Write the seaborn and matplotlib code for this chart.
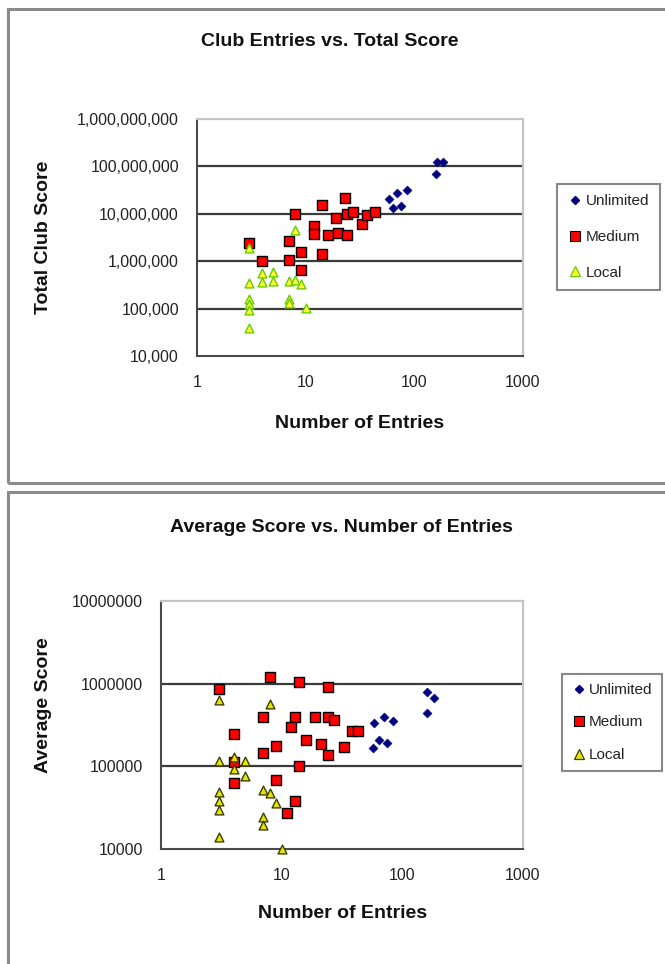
import matplotlib
matplotlib.use("Agg")
import matplotlib.pyplot as plt
import matplotlib.ticker as mticker
from matplotlib.patches import Rectangle
from matplotlib.lines import Line2D
import pandas as pd
import seaborn as sns

# ---- Club entries vs. total score ----
total_unlimited_entries = [160, 184, 157, 58, 69, 86, 64, 76]
total_unlimited_score = [1.24e8, 1.24e8, 6.95e7, 2.07e7, 2.77e7, 3.14e7, 1.34e7, 1.45e7]

total_medium_entries = [3, 4, 8, 7, 9, 7, 9, 14, 12, 12, 16, 14, 19, 23, 24, 27, 20, 24, 33, 37, 43]
total_medium_score = [2.45e6, 1.0e6, 1.0e7, 2.65e6, 1.56e6, 1.05e6, 6.4e5, 1.5e7, 5.5e6, 3.8e6,
                      3.55e6, 1.44e6, 7.96e6, 2.17e7, 1.01e7, 1.08e7, 3.98e6, 3.55e6, 5.96e6,
                      9.66e6, 1.08e7]

total_local_entries = [3, 8, 3, 3, 3, 3, 3, 4, 4, 5, 5, 7, 8, 9, 7, 7, 10]
total_local_score = [1.92e6, 4.52e6, 3.52e5, 1.57e5, 1.23e5, 9.4e4, 3.98e4, 5.53e5, 3.64e5,
                     5.9e5, 3.82e5, 3.82e5, 3.94e5, 3.25e5, 1.63e5, 1.34e5, 1.01e5]

# ---- Average score vs. number of entries ----
avg_unlimited_entries = [58, 70, 84, 64, 75, 57, 159, 183, 159]
avg_unlimited_score = [3.36e5, 4.0e5, 3.5e5, 2.11e5, 1.9e5, 1.65e5, 8.0e5, 6.7e5, 4.4e5]

avg_medium_entries = [3, 8, 14, 24, 4, 7, 13, 19, 24, 27, 12, 38, 43, 16, 21, 9, 7, 33, 24, 14,
                      4, 4, 9, 13, 11]
avg_medium_score = [8.7e5, 1.2e6, 1.04e6, 9.1e5, 2.47e5, 3.93e5, 3.93e5, 3.93e5, 3.93e5, 3.65e5,
                    2.97e5, 2.71e5, 2.64e5, 2.09e5, 1.87e5, 1.75e5, 1.45e5, 1.7e5, 1.39e5, 1.0e5,
                    1.12e5, 6.2e4, 6.8e4, 3.84e4, 2.69e4]

avg_local_entries = [3, 8, 3, 4, 4, 5, 5, 3, 3, 3, 3, 7, 8, 9, 7, 7, 10]
avg_local_score = [6.4e5, 5.6e5, 1.17e5, 1.31e5, 9.3e4, 1.17e5, 7.7e4, 4.84e4, 3.77e4, 2.96e4,
                   1.38e4, 5.2e4, 4.7e4, 3.56e4, 2.45e4, 1.96e4, 1.0e4]

categories = ["Unlimited", "Medium", "Local"]
x_tick_values = [1, 10, 100, 1000]
x_tick_labels = ["1", "10", "100", "1000"]
total_tick_values = [1e4, 1e5, 1e6, 1e7, 1e8, 1e9]
total_tick_labels = ["10,000", "100,000", "1,000,000", "10,000,000", "100,000,000", "1,000,000,000"]
avg_tick_values = [1e4, 1e5, 1e6, 1e7]
avg_tick_labels = ["10000", "100000", "1000000", "10000000"]

sns.set_style("white")
plt.rcParams["font.family"] = ["Liberation Sans", "DejaVu Sans"]

W, H = 665, 964
fig = plt.figure(figsize=(W / 100, H / 100), dpi=100)
fig.patch.set_facecolor("white")

TICK_FS = 11.5
LABEL_FS = 14
LEGEND_FS = 11


def fx(px):
    return px / W


def fy(py):
    return 1 - py / H


# chart frames
for (x0, y0, x1, y1) in [(8, 9, 672, 483), (8, 492, 672, 975)]:
    fig.patches.append(Rectangle((fx(x0), fy(y1)), fx(x1) - fx(x0), fy(y0) - fy(y1),
                                 transform=fig.transFigure, fill=False,
                                 edgecolor="#8a8a8a", linewidth=2.2, zorder=0))


def build_frame(xs, ys):
    parts = []
    for cat, x, y in zip(categories, xs, ys):
        parts.append(pd.DataFrame({"entries": x, "score": y, "type": cat}))
    return pd.concat(parts, ignore_index=True)


def draw_panel(rect, df, local_face, local_edge, yticks, ylabels, ylim):
    ax = fig.add_axes(rect)
    ax.set_xscale("log")
    ax.set_yscale("log")
    styles = {
        "Unlimited": dict(marker="D", s=20, color="#000080", edgecolor="#000080", linewidth=0.5),
        "Medium": dict(marker="s", s=48, color="#FF0000", edgecolor="#000000", linewidth=1.0),
        "Local": dict(marker="^", s=40, color=local_face, edgecolor=local_edge, linewidth=1.0),
    }
    for cat in categories:
        sub = df[df["type"] == cat]
        sns.scatterplot(data=sub, x="entries", y="score", ax=ax, legend=False, zorder=3,
                        clip_on=False, **styles[cat])
    ax.set_xlim(1, 1000)
    ax.set_ylim(*ylim)
    ax.xaxis.set_major_locator(mticker.FixedLocator(x_tick_values))
    ax.xaxis.set_major_formatter(mticker.FixedFormatter(x_tick_labels))
    ax.xaxis.set_minor_locator(mticker.NullLocator())
    ax.yaxis.set_major_locator(mticker.FixedLocator(yticks))
    ax.yaxis.set_major_formatter(mticker.FixedFormatter(ylabels))
    ax.yaxis.set_minor_locator(mticker.NullLocator())
    for v in yticks[1:-1]:
        ax.axhline(v, color="#3a3a3a", linewidth=1.6, zorder=1)
    ax.set_xlabel("")
    ax.set_ylabel("")
    for side in ("left", "bottom"):
        ax.spines[side].set_color("#4a4a4a")
        ax.spines[side].set_linewidth(1.5)
    for side in ("top", "right"):
        ax.spines[side].set_color("#c4c4c4")
        ax.spines[side].set_linewidth(1.6)
    ax.tick_params(axis="both", which="major", direction="out", length=5, width=1.2,
                   color="#4a4a4a", labelsize=TICK_FS, labelcolor="#222222", pad=8)
    ax.tick_params(axis="x", pad=9)

    handles = [
        Line2D([], [], linestyle="none", marker="D", markersize=4.5, color="#000080",
               markeredgecolor="#000080"),
        Line2D([], [], linestyle="none", marker="s", markersize=6.5, color="#FF0000",
               markeredgecolor="#000000", markeredgewidth=0.8),
        Line2D([], [], linestyle="none", marker="^", markersize=6.5, color=local_face,
               markeredgecolor=local_edge, markeredgewidth=0.9),
    ]
    return ax, handles


def add_legend(ax, handles, left, top, spacing, pad):
    leg = ax.legend(handles, categories, loc="upper left", bbox_to_anchor=(fx(left), fy(top)),
                    bbox_transform=fig.transFigure, fontsize=LEGEND_FS, frameon=True,
                    fancybox=False, edgecolor="#6a6a6a", handlelength=1.0, handletextpad=0.2,
                    labelspacing=spacing, borderpad=pad, borderaxespad=0)
    leg.get_frame().set_linewidth(1.5)
    for t in leg.get_texts():
        t.set_color("#222222")
    return leg


# top panel
df_total = build_frame([total_unlimited_entries, total_medium_entries, total_local_entries],
                       [total_unlimited_score, total_medium_score, total_local_score])
ax1, h1 = draw_panel([fx(197), fy(356), fx(523) - fx(197), fy(119) - fy(356)], df_total,
                     "#FFFF33", "#66CC00", total_tick_values, total_tick_labels, (1e4, 1e9))
add_legend(ax1, h1, 557, 184, 1.42, 0.68)

fig.text(fx(330), fy(41), "Club Entries vs. Total Score", ha="center", va="center",
         fontsize=LABEL_FS, fontweight="bold", color="#111111")
fig.text(fx(44), fy(237), "Total Club Score", ha="center", va="center", rotation=90,
         fontsize=LABEL_FS, fontweight="bold", color="#111111")
fig.text(fx(360), fy(423), "Number of Entries", ha="center", va="center",
         fontsize=LABEL_FS, fontweight="bold", color="#111111")

# bottom panel
df_avg = build_frame([avg_unlimited_entries, avg_medium_entries, avg_local_entries],
                     [avg_unlimited_score, avg_medium_score, avg_local_score])
ax2, h2 = draw_panel([fx(161), fy(849), fx(523) - fx(161), fy(601) - fy(849)], df_avg,
                     "#E6E600", "#3d3d00", avg_tick_values, avg_tick_labels, (1e4, 1e7))
add_legend(ax2, h2, 562, 674, 1.22, 0.58)

fig.text(fx(341), fy(527), "Average Score vs. Number of Entries", ha="center", va="center",
         fontsize=LABEL_FS, fontweight="bold", color="#111111")
fig.text(fx(44), fy(705), "Average Score", ha="center", va="center", rotation=90,
         fontsize=LABEL_FS, fontweight="bold", color="#111111")
fig.text(fx(343), fy(913), "Number of Entries", ha="center", va="center",
         fontsize=LABEL_FS, fontweight="bold", color="#111111")

fig.savefig("out.png", dpi=100)
